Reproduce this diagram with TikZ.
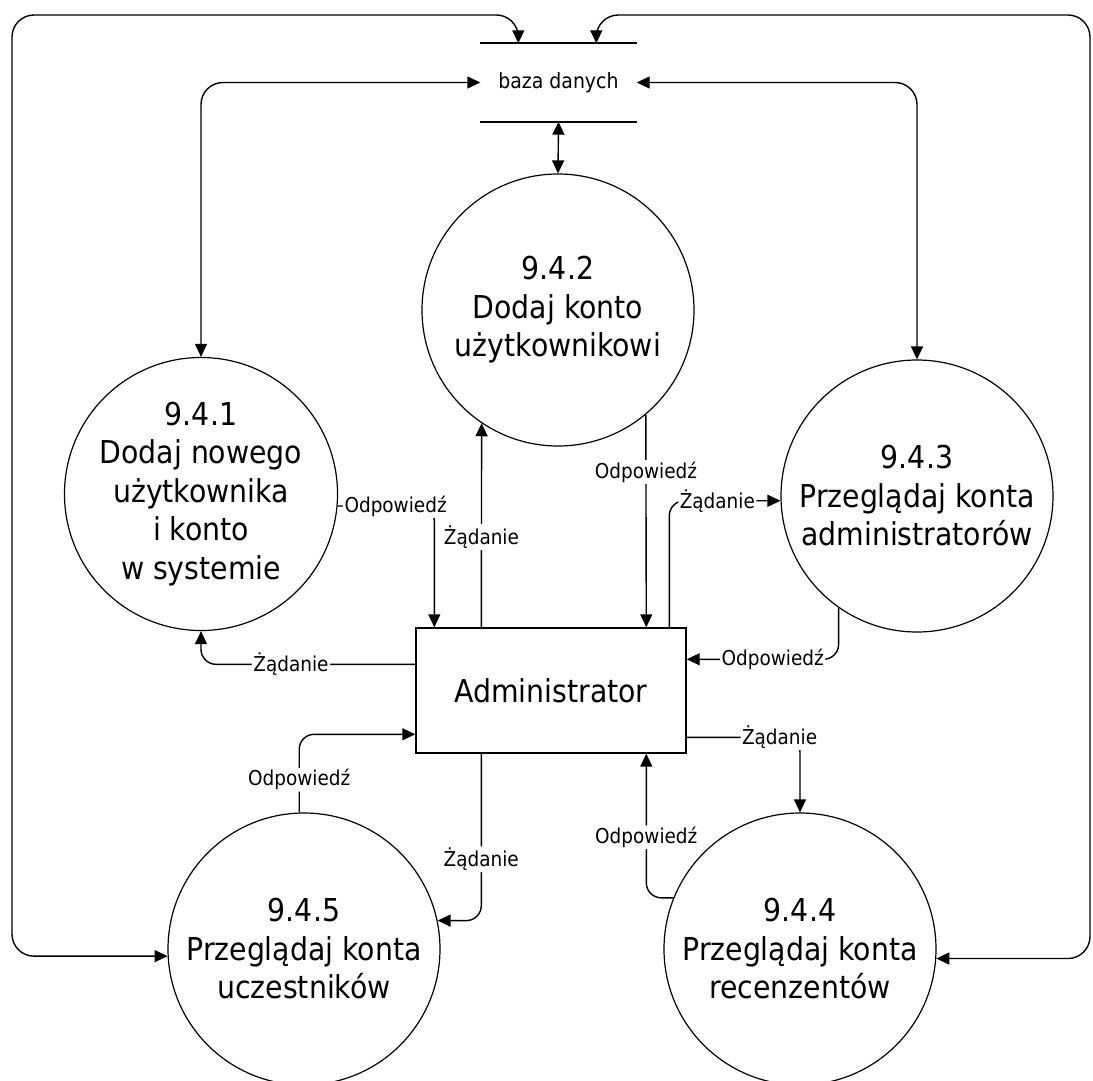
\documentclass[tikz,border=0pt]{standalone}
\usepackage{fontspec}
\setmainfont{DejaVu Sans Condensed}
\usetikzlibrary{arrows.meta}
\begin{document}
\begin{tikzpicture}[x=1pt,y=-1pt,
  line width=1.4pt,
  arr/.style={-{Triangle[length=13pt,width=12pt]}},
  arr2/.style={{Triangle[length=13pt,width=12pt]}-{Triangle[length=13pt,width=12pt]}},
  flow/.style={rounded corners=15pt},
  loop/.style={rounded corners=22pt},
  proc/.style={circle,draw,line width=1.2pt,minimum size=272pt,inner sep=0pt,align=center,font=\fontsize{31.5}{38.5}\selectfont},
  lbl/.style={fill=white,inner sep=1.5pt,font=\fontsize{20.5}{24}\selectfont}]
\fill[white] (0,0) rectangle (1093,1081);
\useasboundingbox (0,0) rectangle (1093,1081);

% processes
\node[proc] (n1) at (201,494) {9.4.1\\Dodaj nowego\\użytkownika\\i konto\\w systemie};
\node[proc] (n2) at (558,310) {9.4.2\\Dodaj konto\\użytkownikowi};
\node[proc] (n3) at (917,496) {9.4.3\\Przeglądaj konta\\administratorów};
\node[proc] (n4) at (800,949) {9.4.4\\Przeglądaj konta\\recenzentów};
\node[proc] (n5) at (304,949) {9.4.5\\Przeglądaj konta\\uczestników};

% external entity
\node[draw,line width=1.4pt,minimum width=270pt,minimum height=125pt,inner sep=0pt,
      font=\fontsize{31.5}{38}\selectfont] (adm) at (551,690.5) {Administrator};

% data store
\node[minimum width=155pt,minimum height=77pt,inner sep=0pt,
      font=\fontsize{21}{24}\selectfont] (db) at (558.5,82.5) {baza danych};
\draw[line width=2pt] (db.north west) -- (db.north east);
\draw[line width=2pt] (db.south west) -- (db.south east);

\coordinate (dbA) at ([xshift=38pt]db.north west);
\coordinate (dbB) at ([xshift=116pt]db.north west);
\coordinate (cL) at (12,15);
\coordinate (cR) at (1090,15);

% data store connections
\draw[arr2,loop] (n5.183.4) -| (cL) -| (dbA);
\draw[arr2,loop] (n4.356.6) -| (cR) -| (dbB);
\draw[arr2,loop] (db.west) -| (n1.north);
\draw[arr2,loop] (db.east) -| (n3.north);
\draw[arr2] (db.south) -- (n2.north);

% administrator flows
\draw[arr,flow] (n1.355.4) -| ([xshift=19pt]adm.north west) node[lbl,pos=0.30]{Odpowiedź};
\draw[arr] ([xshift=66pt]adm.north west) -- (n2.236) node[lbl,pos=0.444]{Żądanie};
\draw[arr] (n2.310.9) -- ([xshift=231pt]adm.north west) node[lbl,pos=0.27]{Odpowiedź};
\draw[arr,flow] ([xshift=254pt]adm.north west) |- (n3.182.1) node[lbl,pos=0.716]{Żądanie};
\draw[arr,flow] (n3.235.5) |- ([yshift=-32pt]adm.north east) node[lbl,pos=0.717]{Odpowiedź};
\draw[arr,flow] ([yshift=-37pt]adm.north west) -| (n1.270.8) node[lbl,pos=0.29]{Żądanie};
\draw[arr,flow] (n5.92.9) |- ([yshift=-107pt]adm.north west) node[lbl,pos=0.21]{Odpowiedź};
\draw[arr,flow] ([xshift=66pt]adm.south west) |- (n5.12.7) node[lbl,pos=0.316]{Żądanie};
\draw[arr,flow] (n4.158.9) -| ([xshift=231pt]adm.south west) node[lbl,pos=0.71]{Odpowiedź};
\draw[arr,flow] ([yshift=-110pt]adm.north east) -| (n4.north) node[lbl,pos=0.41]{Żądanie};
\end{tikzpicture}
\end{document}
